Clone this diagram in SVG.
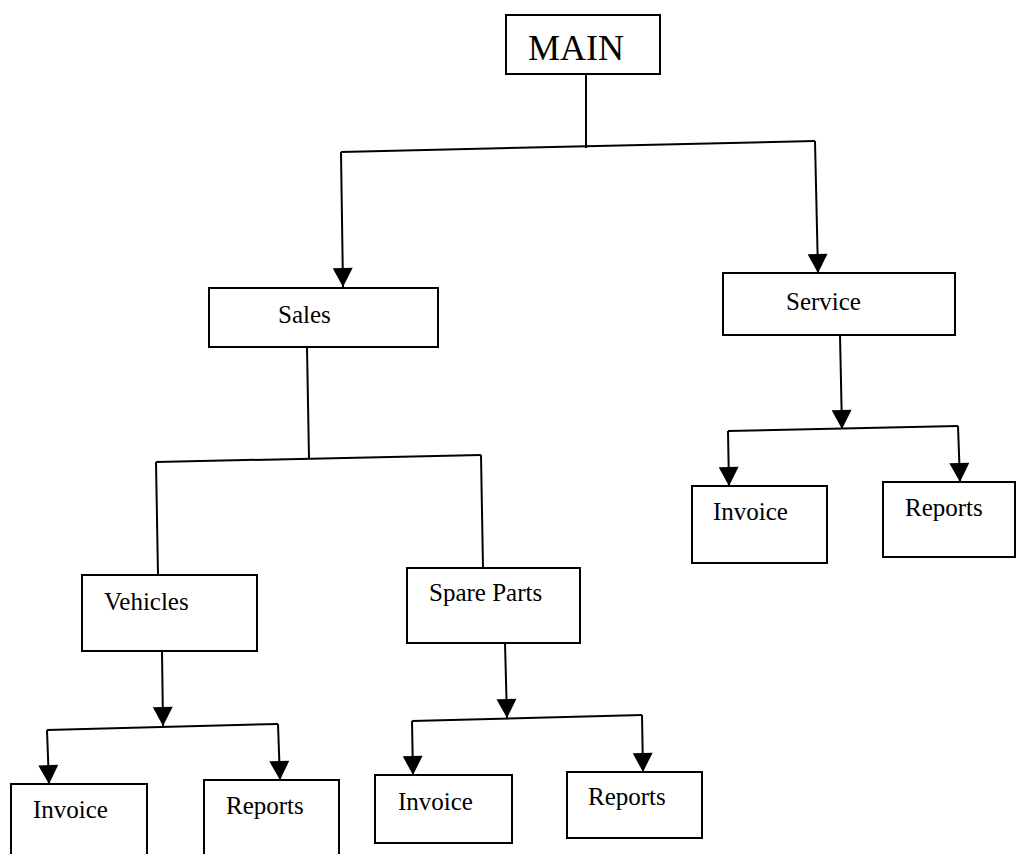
<svg xmlns="http://www.w3.org/2000/svg" width="1017" height="854" viewBox="0 0 1017 854">
<style>
.box{fill:#fff;stroke:#000;stroke-width:2}
.lbl{font-family:"Liberation Serif","Times New Roman",serif;font-size:25px;fill:#000}
.main{font-size:36px}
.c{fill:none;stroke:#000;stroke-width:2}
</style>
<defs>
<marker id="ah" viewBox="0 0 19 20" refX="19" refY="10" markerWidth="20" markerHeight="20" markerUnits="userSpaceOnUse" orient="auto">
<path d="M0,0 L19,10 L0,20 z" fill="#000"/>
</marker>
</defs>
<rect width="1017" height="854" fill="#fff"/>
<g id="connectors">
<path class="c" d="M586,74 L586,148"/>
<path class="c" d="M341,152 L815,141"/>
<path class="c" d="M341,152 L343,287" marker-end="url(#ah)"/>
<path class="c" d="M815,141 L818,273" marker-end="url(#ah)"/>
<path class="c" d="M307,347 L309,459"/>
<path class="c" d="M156,462 L481,455"/>
<path class="c" d="M156,462 L158,575"/>
<path class="c" d="M481,455 L483,568"/>
<path class="c" d="M162,651 L163,726" marker-end="url(#ah)"/>
<path class="c" d="M47,730 L278,724"/>
<path class="c" d="M47,730 L49,784" marker-end="url(#ah)"/>
<path class="c" d="M278,724 L280,780" marker-end="url(#ah)"/>
<path class="c" d="M505,643 L507,718" marker-end="url(#ah)"/>
<path class="c" d="M412,721 L642,715"/>
<path class="c" d="M412,721 L413,775" marker-end="url(#ah)"/>
<path class="c" d="M642,715 L643,772" marker-end="url(#ah)"/>
<path class="c" d="M840,335 L842,429" marker-end="url(#ah)"/>
<path class="c" d="M728,431 L958,426"/>
<path class="c" d="M728,431 L729,486" marker-end="url(#ah)"/>
<path class="c" d="M958,426 L960,482" marker-end="url(#ah)"/>
</g>
<g id="main"><rect class="box" x="506" y="15" width="154" height="59"/><text class="lbl main" x="528" y="60">MAIN</text></g>
<g id="sales"><rect class="box" x="209" y="288" width="229" height="59"/><text class="lbl" x="278" y="323">Sales</text></g>
<g id="service"><rect class="box" x="723" y="273" width="232" height="62"/><text class="lbl" x="786" y="310">Service</text></g>
<g id="vehicles"><rect class="box" x="82" y="575" width="175" height="76"/><text class="lbl" x="104" y="610">Vehicles</text></g>
<g id="spareparts"><rect class="box" x="407" y="568" width="173" height="75"/><text class="lbl" x="429" y="601">Spare Parts</text></g>
<g id="vehicles-invoice"><rect class="box" x="11" y="784" width="136" height="80"/><text class="lbl" x="33" y="818">Invoice</text></g>
<g id="vehicles-reports"><rect class="box" x="204" y="780" width="135" height="80"/><text class="lbl" x="226" y="814">Reports</text></g>
<g id="spare-invoice"><rect class="box" x="375" y="775" width="137" height="68"/><text class="lbl" x="398" y="810">Invoice</text></g>
<g id="spare-reports"><rect class="box" x="567" y="772" width="135" height="66"/><text class="lbl" x="588" y="805">Reports</text></g>
<g id="service-invoice"><rect class="box" x="692" y="486" width="135" height="77"/><text class="lbl" x="713" y="520">Invoice</text></g>
<g id="service-reports"><rect class="box" x="883" y="482" width="132" height="75"/><text class="lbl" x="905" y="516">Reports</text></g>
</svg>
